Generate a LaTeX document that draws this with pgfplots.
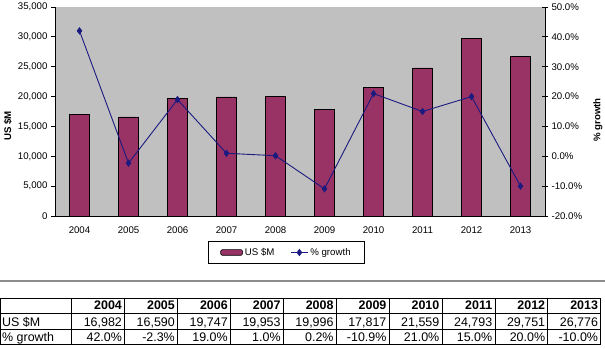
\documentclass[border=0pt]{standalone}
\usepackage{pgfplots}
\pgfplotsset{compat=1.18}
\usepackage{fontspec}
\setmainfont{Liberation Sans}
\definecolor{barc}{HTML}{993366}
\definecolor{bgc}{HTML}{C0C0C0}
\definecolor{linec}{HTML}{1A1A80}
\begin{document}
\begin{tikzpicture}[x=1bp,y=1bp]
\useasboundingbox (0,0) rectangle (605,348);
\pgfplotsset{
  every tick label/.append style={font=\fontsize{9.7}{11}\selectfont},
  /pgf/number format/assume math mode=true,
}
\begin{axis}[
  at={(55bp,132bp)}, anchor=south west,
  scale only axis, width=490bp, height=209bp,
  xmin=-0.5, xmax=9.5, ymin=0, ymax=35000,
  axis y line*=left, axis x line*=bottom,
  axis line style={-, black, line width=0.8bp},
  axis background/.style={fill=bgc},
  ybar, bar width=20bp,
  xtick={0,...,9},
  xticklabels={2004,2005,2006,2007,2008,2009,2010,2011,2012,2013},
  major x tick style={draw=none},
  extra x ticks={-0.5,0.5,1.5,2.5,3.5,4.5,5.5,6.5,7.5,8.5,9.5},
  extra x tick labels={},
  extra x tick style={tick align=center, major tick length=6bp, major x tick style={black, line width=0.8bp}},
  ytick={0,5000,...,35000},
  y tick style={black, line width=0.8bp},
  tick align=outside, major tick length=4bp,
  scaled y ticks=false,
  yticklabel style={/pgf/number format/.cd, 1000 sep={,}},
  xticklabel style={yshift=-3bp},
  ylabel={\textbf{US \$M}},
  every axis y label/.style={at={(axis description cs:-0.096,0.43)}, rotate=90, anchor=center, font=\fontsize{9.7}{11}\selectfont},
]
\addplot[fill=barc, draw=black, line width=0.6bp] coordinates {
 (0,16982) (1,16590) (2,19747) (3,19953) (4,19996)
 (5,17817) (6,21559) (7,24793) (8,29751) (9,26776)};
\end{axis}
\begin{axis}[
  at={(55bp,132bp)}, anchor=south west,
  scale only axis, width=490bp, height=209bp,
  xmin=-0.5, xmax=9.5, ymin=-20, ymax=50,
  axis y line*=right, axis x line=none,
  axis line style={-, black, line width=0.8bp},
  ytick={-20,-10,...,50},
  y tick style={black, line width=0.8bp},
  tick align=center, major tick length=6bp,
  yticklabel={\pgfmathprintnumber[fixed,fixed zerofill,precision=1]{\tick}\%},
  ylabel={\textbf{\% growth}},
  every axis y label/.style={at={(axis description cs:1.108,0.46)}, rotate=90, anchor=center, font=\fontsize{9.7}{11}\selectfont},
  legend columns=2,
  legend style={at={(axis description cs:0.4724,-0.1746)}, anchor=center,
    draw=black, line width=0.8bp, fill=white, font=\fontsize{9.7}{11}\selectfont,
    inner xsep=12bp, inner ysep=5bp,
    /tikz/every even column/.append style={column sep=14bp}},
]
\addlegendimage{legend image code/.code={\draw[fill=barc,draw=black,line width=0.6bp,rounded corners=1.5bp] (0bp,-2.8bp) rectangle (22bp,2.8bp);}}
\addlegendentry{US \$M}
\addplot[linec, line width=0.9bp, mark=diamond*, mark size=3bp, mark options={fill=linec}] coordinates {
 (0,42.0) (1,-2.3) (2,19.0) (3,1.0) (4,0.2)
 (5,-10.9) (6,21.0) (7,15.0) (8,20.0) (9,-10.0)};
\addlegendentry{\% growth}
\end{axis}
% separator line
\draw[color=black!45, line width=1.6bp] (0,67) -- (605,67);
% data table
\draw[line width=0.8bp] (0.5,50) -- (601,50) (0.5,34.5) -- (601,34.5) (0.5,18.5) -- (601,18.5) (0.5,3.5) -- (601,3.5);
\draw[line width=0.8bp] (0.5,50) -- (0.5,3.5) (71.7,50) -- (71.7,3.5);
\foreach \i in {1,...,10} { \draw[line width=0.8bp] ({71.7+52.9*\i},50) -- ({71.7+52.9*\i},3.5); }
\begin{scope}[every node/.style={inner sep=0pt, font=\fontsize{12.5}{14}\selectfont}]
\node[anchor=base west] at (2,22) {US \$M};
\node[anchor=base west] at (2,7) {\% growth};
\foreach \yr [count=\i] in {2004,2005,2006,2007,2008,2009,2010,2011,2012,2013}
  { \node[anchor=base east] at ({71.7+52.9*\i-2.5},38.7) {\textbf{\yr}}; }
\foreach \v [count=\i] in {{16,982},{16,590},{19,747},{19,953},{19,996},{17,817},{21,559},{24,793},{29,751},{26,776}}
  { \node[anchor=base east] at ({71.7+52.9*\i-2.5},22) {\v}; }
\foreach \v [count=\i] in {42.0\%,-2.3\%,19.0\%,1.0\%,0.2\%,-10.9\%,21.0\%,15.0\%,20.0\%,-10.0\%}
  { \node[anchor=base east] at ({71.7+52.9*\i-2.5},7) {\v}; }
\end{scope}
\end{tikzpicture}
\end{document}
